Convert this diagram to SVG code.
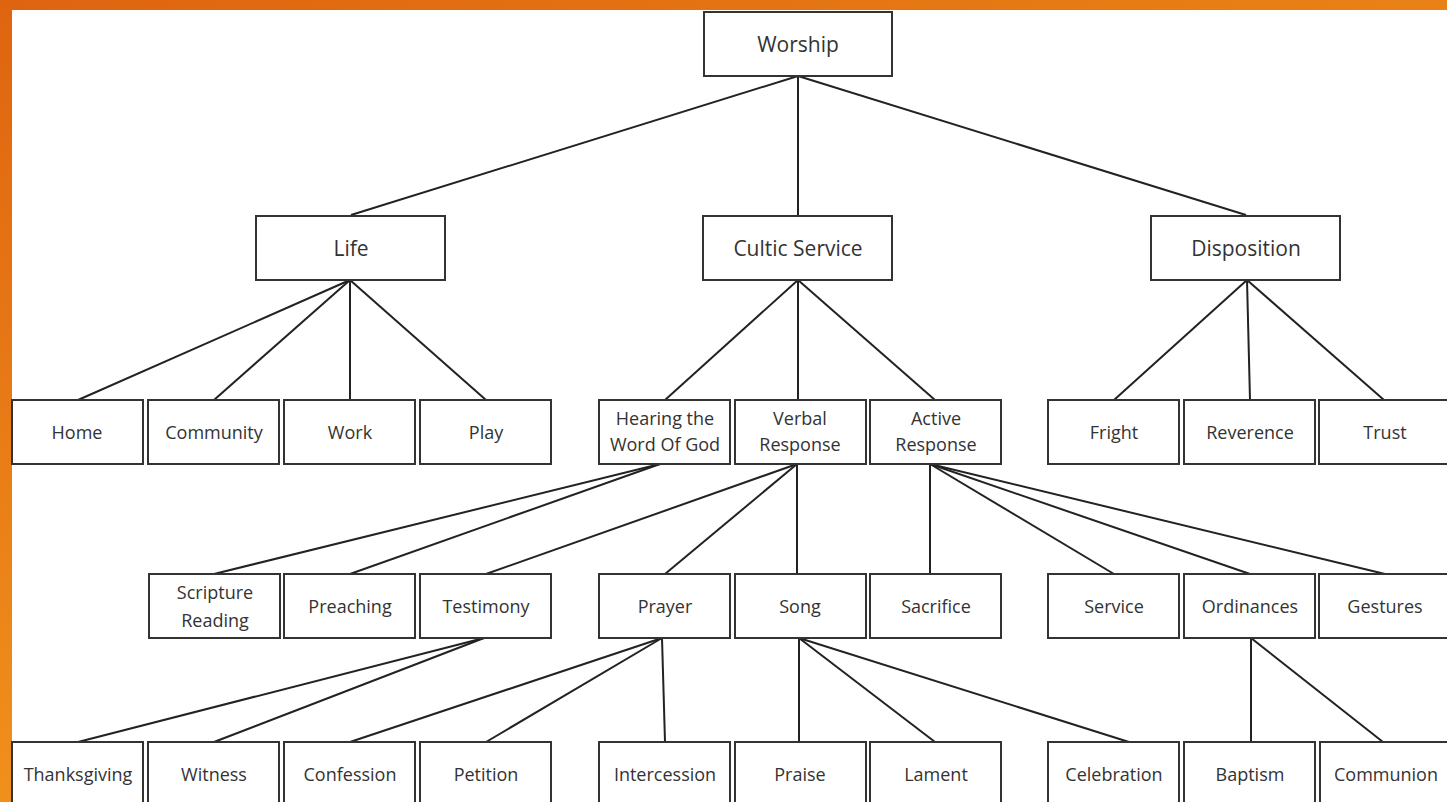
<svg xmlns="http://www.w3.org/2000/svg" width="1447" height="802" viewBox="0 0 1447 802">
<defs>
<linearGradient id="gTop" x1="0" y1="0" x2="1" y2="0">
<stop offset="0" stop-color="#DF6410"/>
<stop offset="1" stop-color="#E98216"/>
</linearGradient>
<linearGradient id="gLeft" x1="0" y1="0" x2="0" y2="1">
<stop offset="0" stop-color="#DF6410"/>
<stop offset="1" stop-color="#F0901C"/>
</linearGradient>
<style>
.box{fill:#fff;stroke:#333;stroke-width:2}
.t{font-family:"Open Sans","Noto Sans",sans-serif;font-size:18px;fill:#333;text-anchor:middle;dominant-baseline:central}
.t2{font-size:21px}
.c line{stroke:#222;stroke-width:2}
</style>
</defs>
<rect x="0" y="0" width="1447" height="802" fill="#fff"/>
<rect x="0" y="0" width="1447" height="10" fill="url(#gTop)"/>
<rect x="0" y="0" width="12" height="802" fill="url(#gLeft)"/>

<g class="c" id="connectors">
<line x1="798" y1="76" x2="351" y2="215"/>
<line x1="798" y1="76" x2="798" y2="215"/>
<line x1="798" y1="76" x2="1246" y2="215"/>
<line x1="350" y1="280" x2="78" y2="400"/>
<line x1="350" y1="280" x2="214" y2="400"/>
<line x1="350" y1="280" x2="350" y2="400"/>
<line x1="350" y1="280" x2="486" y2="400"/>
<line x1="798" y1="280" x2="665" y2="400"/>
<line x1="798" y1="280" x2="798" y2="400"/>
<line x1="798" y1="280" x2="935" y2="400"/>
<line x1="1247" y1="280" x2="1114" y2="400"/>
<line x1="1247" y1="280" x2="1250" y2="400"/>
<line x1="1247" y1="280" x2="1384" y2="400"/>
<line x1="660" y1="464" x2="214" y2="574"/>
<line x1="660" y1="464" x2="350" y2="574"/>
<line x1="797" y1="464" x2="486" y2="574"/>
<line x1="797" y1="464" x2="665" y2="574"/>
<line x1="797" y1="464" x2="797" y2="574"/>
<line x1="930" y1="464" x2="930" y2="574"/>
<line x1="930" y1="464" x2="1114" y2="574"/>
<line x1="930" y1="464" x2="1250" y2="574"/>
<line x1="930" y1="464" x2="1385" y2="574"/>
<line x1="484" y1="638" x2="78" y2="742"/>
<line x1="484" y1="638" x2="214" y2="742"/>
<line x1="662" y1="638" x2="350" y2="742"/>
<line x1="662" y1="638" x2="486" y2="742"/>
<line x1="662" y1="638" x2="665" y2="742"/>
<line x1="799" y1="638" x2="799" y2="742"/>
<line x1="799" y1="638" x2="935" y2="742"/>
<line x1="799" y1="638" x2="1129" y2="742"/>
<line x1="1251" y1="638" x2="1251" y2="742"/>
<line x1="1251" y1="638" x2="1383" y2="742"/>
</g>

<g id="worship"><rect class="box" x="704" y="12" width="188" height="64"/><text class="t t2" x="798" y="44">Worship</text></g>

<g id="life"><rect class="box" x="256" y="216" width="189" height="64"/><text class="t t2" x="351" y="248">Life</text></g>
<g id="cultic"><rect class="box" x="703" y="216" width="189" height="64"/><text class="t t2" x="798" y="248">Cultic Service</text></g>
<g id="disposition"><rect class="box" x="1151" y="216" width="189" height="64"/><text class="t t2" x="1246" y="248">Disposition</text></g>

<g id="home"><rect class="box" x="12" y="400" width="131" height="64"/><text class="t" x="77" y="432">Home</text></g>
<g id="community"><rect class="box" x="148" y="400" width="131" height="64"/><text class="t" x="214" y="432">Community</text></g>
<g id="work"><rect class="box" x="284" y="400" width="131" height="64"/><text class="t" x="350" y="432">Work</text></g>
<g id="play"><rect class="box" x="420" y="400" width="131" height="64"/><text class="t" x="486" y="432">Play</text></g>
<g id="hearing"><rect class="box" x="599" y="400" width="131" height="64"/><text class="t" x="665" y="418">Hearing the</text><text class="t" x="665" y="444">Word Of God</text></g>
<g id="verbal"><rect class="box" x="735" y="400" width="131" height="64"/><text class="t" x="800" y="418">Verbal</text><text class="t" x="800" y="444">Response</text></g>
<g id="active"><rect class="box" x="870" y="400" width="131" height="64"/><text class="t" x="936" y="418">Active</text><text class="t" x="936" y="444">Response</text></g>
<g id="fright"><rect class="box" x="1048" y="400" width="131" height="64"/><text class="t" x="1114" y="432">Fright</text></g>
<g id="reverence"><rect class="box" x="1184" y="400" width="131" height="64"/><text class="t" x="1250" y="432">Reverence</text></g>
<g id="trust"><rect class="box" x="1319" y="400" width="131" height="64"/><text class="t" x="1385" y="432">Trust</text></g>

<g id="scripture"><rect class="box" x="149" y="574" width="131" height="64"/><text class="t" x="215" y="592">Scripture</text><text class="t" x="215" y="620">Reading</text></g>
<g id="preaching"><rect class="box" x="284" y="574" width="131" height="64"/><text class="t" x="350" y="606">Preaching</text></g>
<g id="testimony"><rect class="box" x="420" y="574" width="131" height="64"/><text class="t" x="486" y="606">Testimony</text></g>
<g id="prayer"><rect class="box" x="599" y="574" width="131" height="64"/><text class="t" x="665" y="606">Prayer</text></g>
<g id="song"><rect class="box" x="735" y="574" width="131" height="64"/><text class="t" x="800" y="606">Song</text></g>
<g id="sacrifice"><rect class="box" x="870" y="574" width="131" height="64"/><text class="t" x="936" y="606">Sacrifice</text></g>
<g id="service"><rect class="box" x="1048" y="574" width="131" height="64"/><text class="t" x="1114" y="606">Service</text></g>
<g id="ordinances"><rect class="box" x="1184" y="574" width="131" height="64"/><text class="t" x="1250" y="606">Ordinances</text></g>
<g id="gestures"><rect class="box" x="1319" y="574" width="131" height="64"/><text class="t" x="1385" y="606">Gestures</text></g>

<g id="thanksgiving"><rect class="box" x="12" y="742" width="131" height="70"/><text class="t" x="78" y="774">Thanksgiving</text></g>
<g id="witness"><rect class="box" x="148" y="742" width="131" height="70"/><text class="t" x="214" y="774">Witness</text></g>
<g id="confession"><rect class="box" x="284" y="742" width="131" height="70"/><text class="t" x="350" y="774">Confession</text></g>
<g id="petition"><rect class="box" x="420" y="742" width="131" height="70"/><text class="t" x="486" y="774">Petition</text></g>
<g id="intercession"><rect class="box" x="599" y="742" width="131" height="70"/><text class="t" x="665" y="774">Intercession</text></g>
<g id="praise"><rect class="box" x="735" y="742" width="131" height="70"/><text class="t" x="800" y="774">Praise</text></g>
<g id="lament"><rect class="box" x="870" y="742" width="131" height="70"/><text class="t" x="936" y="774">Lament</text></g>
<g id="celebration"><rect class="box" x="1048" y="742" width="131" height="70"/><text class="t" x="1114" y="774">Celebration</text></g>
<g id="baptism"><rect class="box" x="1184" y="742" width="131" height="70"/><text class="t" x="1250" y="774">Baptism</text></g>
<g id="communion"><rect class="box" x="1320" y="742" width="131" height="70"/><text class="t" x="1386" y="774">Communion</text></g>
</svg>
